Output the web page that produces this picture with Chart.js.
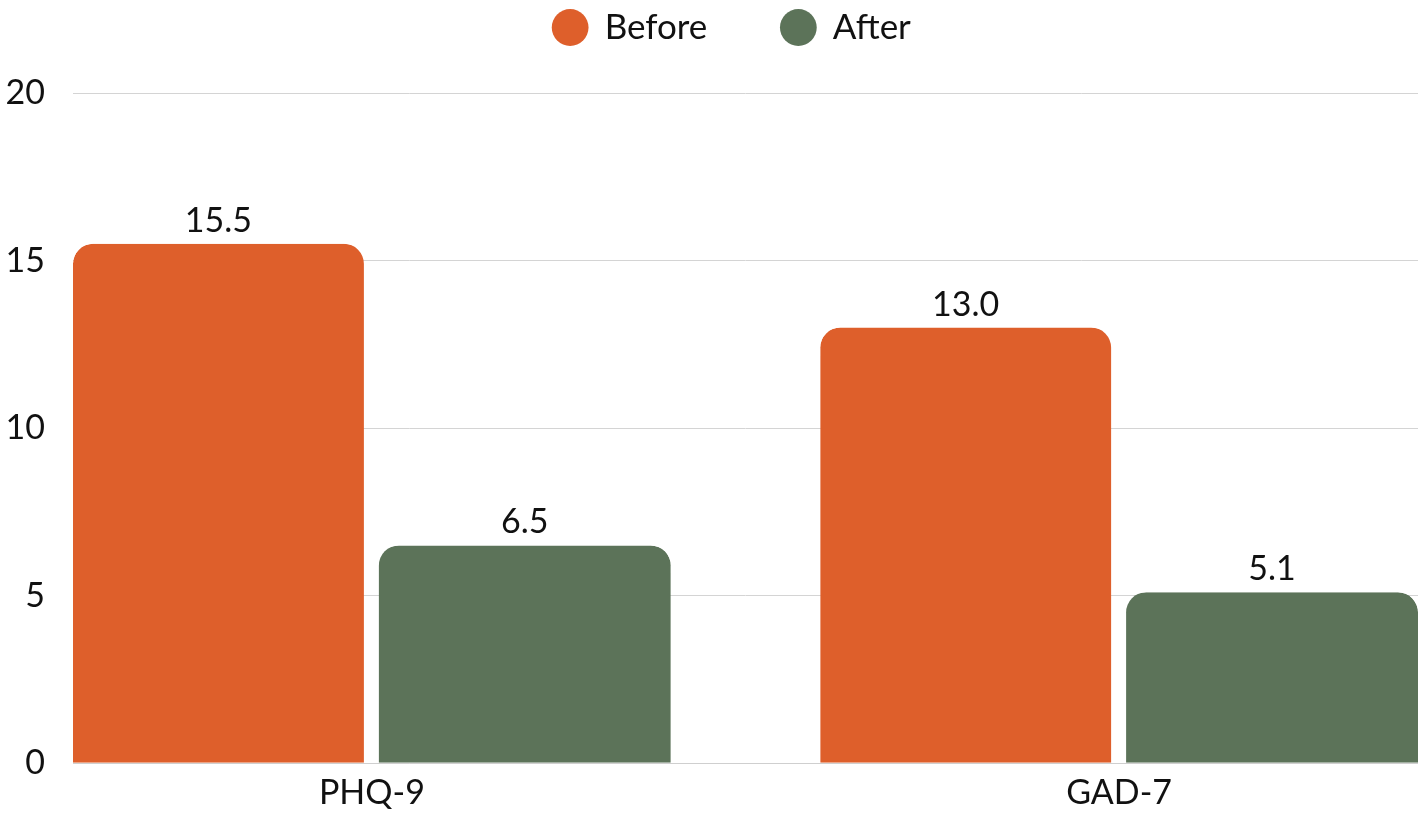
<!DOCTYPE html>
<html>
<head>
<meta charset="utf-8">
<script src="https://cdn.jsdelivr.net/npm/chart.js@4/dist/chart.umd.min.js"></script>
<style>
  html, body { margin: 0; padding: 0; background: #fff; }
  #wrap { width: 1418px; height: 815px; position: relative; }
</style>
</head>
<body>
<div id="wrap"><canvas id="scoreChart"></canvas></div>
<script>
const categories = ['PHQ-9', 'GAD-7'];
const beforeScores = [15.5, 13.0];
const afterScores = [6.5, 5.1];
const yTicks = [0, 5, 10, 15, 20];

const ORANGE = '#DE5F2B';
const GREEN = '#5C7359';
const FONT = 'Lato, "DejaVu Sans", sans-serif';
const LEGEND_GAP = 74;   // horizontal gap between legend items
const LEGEND_HEIGHT = 157;
const LEGEND_SHIFT = 46; // legend sits a bit right of the canvas centre

// draws the value above each bar, centred on the visible fill
const valueLabels = {
    id: 'valueLabels',
    afterDatasetsDraw(chart) {
        const ctx = chart.ctx;
        ctx.save();
        ctx.font = '34px ' + FONT;
        ctx.fillStyle = '#111';
        ctx.textAlign = 'center';
        ctx.textBaseline = 'alphabetic';
        chart.data.datasets.forEach((ds, di) => {
            const meta = chart.getDatasetMeta(di);
            const bw = ds.borderWidth || {};
            meta.data.forEach((bar, i) => {
                const shift = ((bw.left || 0) - (bw.right || 0)) / 2;
                ctx.fillText(ds.data[i].y.toFixed(1), bar.x + shift, bar.y - 12);
            });
        });
        ctx.restore();
    }
};

// legend padding is used for both the item gap and the vertical spacing,
// so pin the legend height to keep the plot top where it belongs
const legendHeight = {
    id: 'legendHeight',
    beforeLayout(chart) {
        const lg = chart.legend;
        if (!lg || lg._pinned) return;
        const fit = lg.fit.bind(lg);
        lg.fit = function () { fit(); this.height = LEGEND_HEIGHT; };
        lg._pinned = true;
    },
    afterLayout(chart) {
        if (chart.legend) chart.legend.left += LEGEND_SHIFT;
    }
};

function createScoreChart() {
    const ctx = document.getElementById('scoreChart');
    if (!ctx) return;
    new Chart(ctx, {
        type: 'bar',
        data: {
            datasets: [{
                label: 'Before',
                data: beforeScores.map((v, i) => ({ x: i, y: v })),
                backgroundColor: ORANGE,
                borderColor: 'rgba(0,0,0,0)',
                borderWidth: { top: 0, left: 0, bottom: 0, right: 8 },
                borderRadius: { topLeft: 20, topRight: 28, bottomLeft: 0, bottomRight: 0 },
                borderSkipped: 'bottom'
            }, {
                label: 'After',
                data: afterScores.map((v, i) => ({ x: i, y: v })),
                backgroundColor: GREEN,
                borderColor: 'rgba(0,0,0,0)',
                borderWidth: { top: 0, left: 7, bottom: 0, right: 0 },
                borderRadius: { topLeft: 27, topRight: 20, bottomLeft: 0, bottomRight: 0 },
                borderSkipped: 'bottom'
            }]
        },
        options: {
            responsive: true,
            maintainAspectRatio: false,
            animation: false,
            barPercentage: 1,
            categoryPercentage: 0.8,
            layout: { padding: { top: -64, right: 0, bottom: -7, left: 0 } },
            plugins: {
                legend: {
                    display: true,
                    position: 'top',
                    labels: {
                        usePointStyle: true,
                        pointStyle: 'circle',
                        boxWidth: 34,
                        boxHeight: 26,
                        padding: LEGEND_GAP,
                        color: '#111',
                        font: { family: FONT, size: 35 }
                    }
                },
                tooltip: { enabled: false }
            },
            scales: {
                x: {
                    type: 'linear',
                    offset: false,
                    min: -0.4,
                    max: 1.4,
                    afterBuildTicks: (scale) => {
                        scale.ticks = categories.map((c, i) => ({ value: i }));
                    },
                    ticks: {
                        padding: 9,
                        color: '#111',
                        font: { family: FONT, size: 34 },
                        callback: (v) => categories[v]
                    },
                    grid: { display: false, drawTicks: false },
                    border: { display: true, color: '#cfcfcf', width: 1 }
                },
                y: {
                    min: 0,
                    max: 20,
                    afterBuildTicks: (scale) => {
                        scale.ticks = yTicks.map(v => ({ value: v }));
                    },
                    afterFit: (scale) => { scale.width = 73; },
                    ticks: {
                        padding: 28,
                        color: '#111',
                        font: { family: FONT, size: 34 }
                    },
                    grid: { color: '#d4d4d4', lineWidth: 1, drawTicks: false },
                    border: { display: false }
                }
            }
        },
        plugins: [valueLabels, legendHeight]
    });
}

document.addEventListener('DOMContentLoaded', () => {
    createScoreChart();
});
</script>
</body>
</html>
